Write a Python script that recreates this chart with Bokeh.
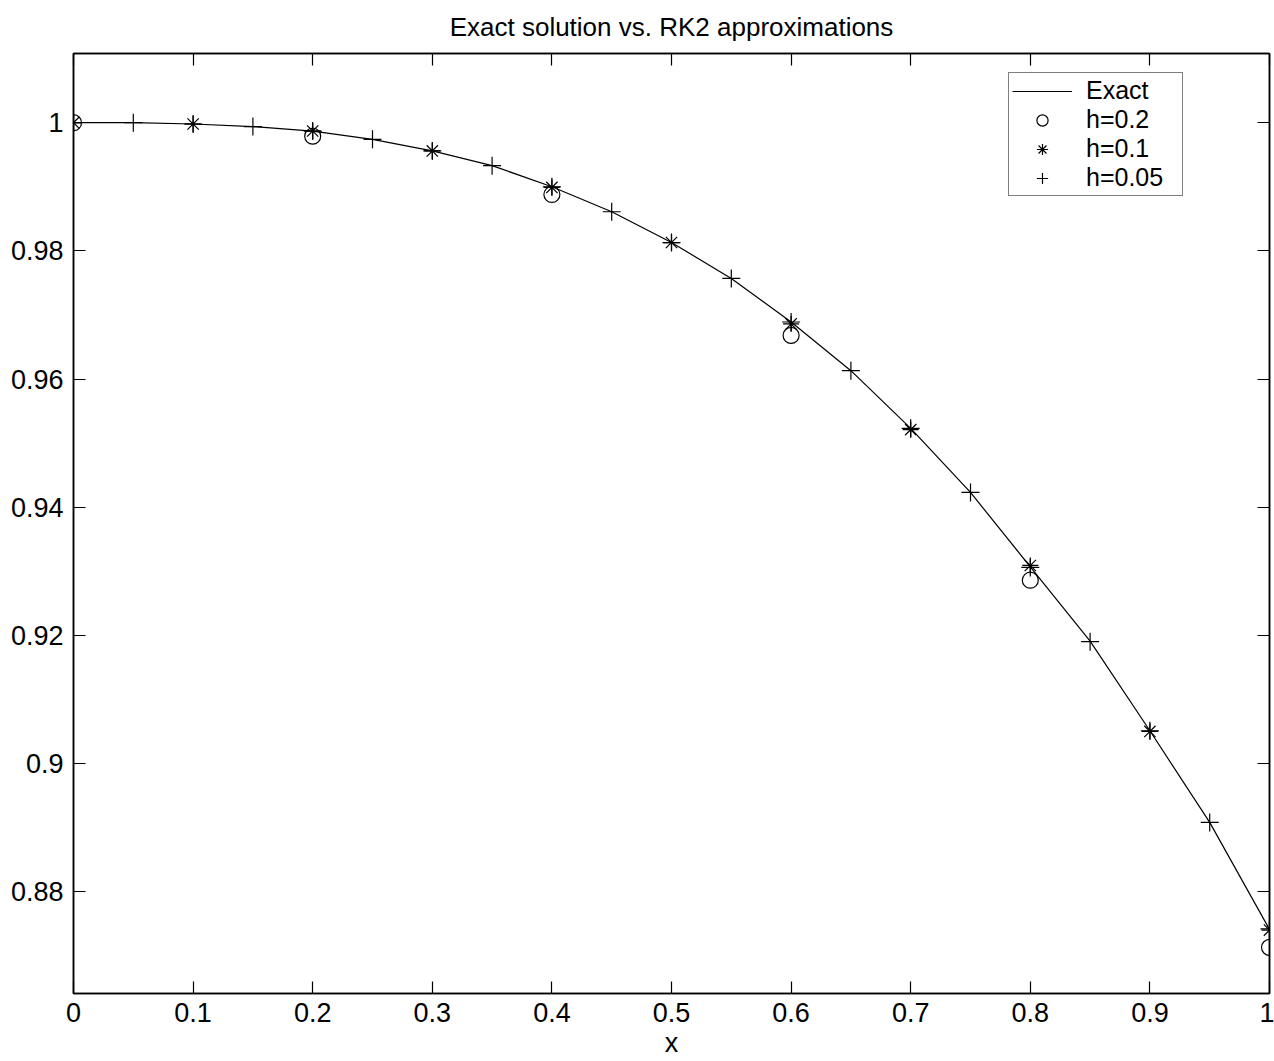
from bokeh.plotting import figure
from bokeh.models import Range1d, LinearAxis, FixedTicker, NumeralTickFormatter, Legend, LegendItem
from bokeh.embed import file_html
from bokeh.resources import INLINE

# ---- data ----
x_exact = [0.0, 0.05, 0.1, 0.15, 0.2, 0.25, 0.3, 0.35, 0.4, 0.45, 0.5,
           0.55, 0.6, 0.65, 0.7, 0.75, 0.8, 0.85, 0.9, 0.95, 1.0]
y_exact = [1.0, 1.0, 0.9998, 0.9994, 0.9987, 0.9974, 0.9956, 0.9933, 0.9900, 0.9861, 0.9813,
           0.9757, 0.9689, 0.9613, 0.9523, 0.9423, 0.9307, 0.9191, 0.9051, 0.8908, 0.8741]

x_h02 = [0.0, 0.2, 0.4, 0.6, 0.8, 1.0]
y_h02 = [1.0, 0.9979, 0.9888, 0.9668, 0.9286, 0.8713]

x_h01 = [0.0, 0.1, 0.2, 0.3, 0.4, 0.5, 0.6, 0.7, 0.8, 0.9, 1.0]
y_h01 = [1.0, 0.9998, 0.9987, 0.9956, 0.9899, 0.9813, 0.9686, 0.9521, 0.9309, 0.9050, 0.8740]

x_h005 = [0.0, 0.05, 0.1, 0.15, 0.2, 0.25, 0.3, 0.35, 0.4, 0.45, 0.5,
          0.55, 0.6, 0.65, 0.7, 0.75, 0.8, 0.85, 0.9, 0.95, 1.0]
y_h005 = [1.0, 1.0, 0.9998, 0.9994, 0.9987, 0.9974, 0.9956, 0.9933, 0.9900, 0.9861, 0.9813,
          0.9757, 0.9689, 0.9613, 0.9523, 0.9423, 0.9306, 0.9190, 0.9051, 0.8908, 0.8742]

x_ticks = [0, 0.1, 0.2, 0.3, 0.4, 0.5, 0.6, 0.7, 0.8, 0.9, 1.0]
y_ticks = [0.88, 0.9, 0.92, 0.94, 0.96, 0.98, 1.0]

title_text = "Exact solution vs. RK2 approximations"
x_label = "x"
legend_labels = ["Exact", "h=0.2", "h=0.1", "h=0.05"]

FONT = "Liberation Sans"

p = figure(width=1274, height=1061, output_backend="svg", toolbar_location=None,
           x_range=Range1d(0, 1), y_range=Range1d(0.8641, 1.0108),
           min_border_left=73, min_border_right=5, min_border_top=53, min_border_bottom=68,
           x_axis_type=None, y_axis_type=None)

p.background_fill_color = "white"
p.border_fill_color = "white"
p.outline_line_color = "black"
p.outline_line_width = 1.5
p.grid.visible = False

p.title.text = title_text
p.title.align = "center"
p.title.vertical_align = "top"
p.title.text_font = FONT
p.title.text_font_size = "26px"
p.title.text_font_style = "normal"
p.title.text_color = "black"
p.title.text_line_height = 1.0
p.title.standoff = 20


def style(ax, ticks, show_labels):
    ax.ticker = FixedTicker(ticks=ticks)
    ax.formatter = NumeralTickFormatter(format="0.[00]")
    ax.major_tick_in = 12
    ax.major_tick_out = 0
    ax.minor_tick_line_color = None
    ax.axis_line_color = "black"
    ax.axis_line_width = 1.5
    ax.major_tick_line_color = "black"
    ax.major_tick_line_width = 1.2
    ax.major_label_text_font = FONT
    if show_labels:
        ax.major_label_text_color = "black"
        ax.major_label_text_font_size = "27px"
        ax.major_label_text_line_height = 1.0
        ax.major_label_standoff = 9
    else:
        ax.major_label_text_color = None
        ax.major_label_text_font_size = "0px"
        ax.major_label_standoff = 0


xb = LinearAxis()
style(xb, x_ticks, True)
xb.axis_label = x_label
xb.axis_label_text_font = FONT
xb.axis_label_text_font_size = "27px"
xb.axis_label_text_font_style = "normal"
xb.axis_label_text_color = "black"
xb.axis_label_text_line_height = 1.0
xb.axis_label_standoff = 3
p.add_layout(xb, "below")

yl = LinearAxis()
style(yl, y_ticks, True)
yl.major_label_standoff = 10
p.add_layout(yl, "left")

xt = LinearAxis()
style(xt, x_ticks, False)
p.add_layout(xt, "above")

yr = LinearAxis()
style(yr, y_ticks, False)
p.add_layout(yr, "right")

r_exact = p.line(x_exact, y_exact, line_color="black", line_width=1.2)
r_h02 = p.scatter(x_h02, y_h02, marker="circle", size=16, fill_color=None,
                  line_color="black", line_width=1.2)
r_h01 = p.scatter(x_h01, y_h01, marker="asterisk", size=16,
                  line_color="black", line_width=1.2)
r_h005 = p.scatter(x_h005, y_h005, marker="cross", size=18,
                   line_color="black", line_width=1.2)

legend = Legend(items=[LegendItem(label=legend_labels[0], renderers=[r_exact]),
                       LegendItem(label=legend_labels[1], renderers=[r_h02]),
                       LegendItem(label=legend_labels[2], renderers=[r_h01]),
                       LegendItem(label=legend_labels[3], renderers=[r_h005])],
                location=(935, 797))
legend.border_line_color = "black"
legend.border_line_width = 1.5
legend.background_fill_color = "white"
legend.background_fill_alpha = 1
legend.label_text_font = FONT
legend.label_text_font_size = "25px"
legend.label_text_color = "black"
legend.label_text_line_height = 1.0
legend.glyph_width = 60
legend.glyph_height = 28
legend.label_height = 28
legend.label_width = 93
legend.label_standoff = 14
legend.spacing = 0
legend.padding = 3
legend.margin = 0
p.add_layout(legend)

open("out.html", "w").write(file_html(p, INLINE))
